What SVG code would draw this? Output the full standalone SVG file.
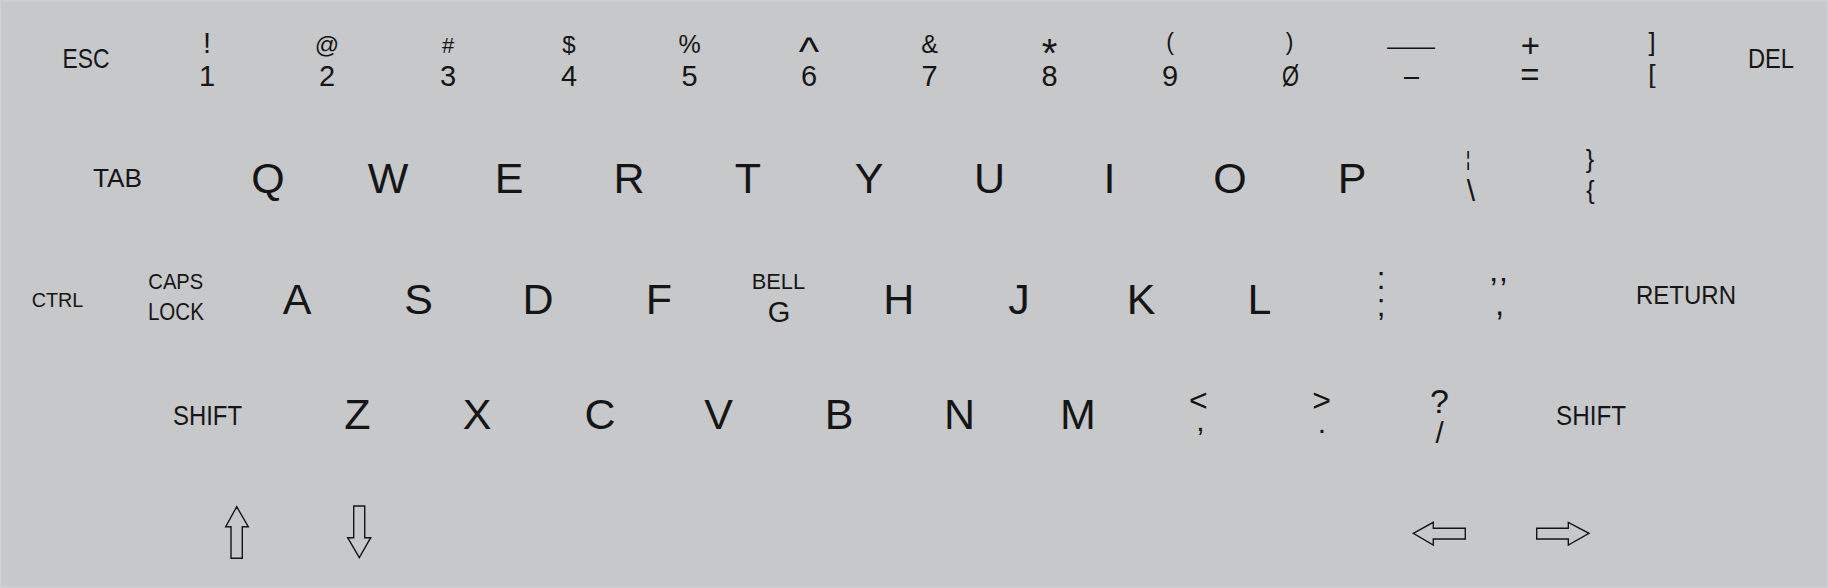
<svg xmlns="http://www.w3.org/2000/svg" width="1828" height="588" viewBox="0 0 1828 588">
<style>
text{font-family:"Liberation Sans",Arial,sans-serif;fill:#151515;text-anchor:middle}
.big{font-size:43px}
.d{font-size:29px}
.arrow{fill:none;stroke:#151515;stroke-width:1.4;stroke-linejoin:miter}
</style>
<rect x="0" y="0" width="1828" height="588" fill="#c7c8ca"/>
<rect x="0.5" y="0.5" width="1827" height="587" fill="none" stroke="#cfd0d2" stroke-width="1.5"/>
<g id="row1">
<g id="key-esc"><text x="86" y="68" font-size="28" textLength="47" lengthAdjust="spacingAndGlyphs">ESC</text></g>
<g id="key-1"><text x="207" y="53" class="d">!</text><text x="207" y="86" class="d">1</text></g>
<g id="key-2"><text x="327" y="53" font-size="24">@</text><text x="327" y="86" class="d">2</text></g>
<g id="key-3"><text x="448" y="53" font-size="22">#</text><text x="448" y="86" class="d">3</text></g>
<g id="key-4"><text x="569" y="52.5" font-size="24">$</text><text x="569" y="86" class="d">4</text></g>
<g id="key-5"><text x="689.5" y="53" font-size="25">%</text><text x="689.5" y="86" class="d">5</text></g>
<g id="key-6"><text x="809" y="65" font-size="29" transform="translate(809 65) scale(1.5 1.42) translate(-809 -65)">^</text><text x="809" y="86" class="d">6</text></g>
<g id="key-7"><text x="929.5" y="53" font-size="25">&amp;</text><text x="929.5" y="86" class="d">7</text></g>
<g id="key-8"><text x="1049.5" y="67" font-size="40">*</text><text x="1049.5" y="86" class="d">8</text></g>
<g id="key-9"><text x="1170" y="50" font-size="23">(</text><text x="1170" y="86" class="d">9</text></g>
<g id="key-0"><text x="1289.5" y="50" font-size="23">)</text><text x="1290.5" y="86" class="d" textLength="17" lengthAdjust="spacingAndGlyphs">Ø</text></g>
<g id="key-minus"><text x="1411" y="54" font-size="24" textLength="48" lengthAdjust="spacingAndGlyphs">—</text><text x="1411.5" y="86" font-size="32" textLength="15" lengthAdjust="spacingAndGlyphs">–</text></g>
<g id="key-equal"><text x="1530.5" y="57" font-size="33">+</text><text x="1530" y="86" font-size="33">=</text></g>
<g id="key-bracket"><text x="1652" y="51.3" font-size="25.5">]</text><text x="1652" y="82.7" font-size="26.5">[</text></g>
<g id="key-del"><text x="1771" y="68" font-size="28" textLength="46" lengthAdjust="spacingAndGlyphs">DEL</text></g>
</g>
<g id="row2">
<g id="key-tab"><text x="117.5" y="187" font-size="26.5" textLength="49" lengthAdjust="spacingAndGlyphs">TAB</text></g>
<g id="key-q"><text x="268" y="192.5" class="big">Q</text></g>
<g id="key-w"><text x="388" y="192.5" class="big">W</text></g>
<g id="key-e"><text x="509" y="192.5" class="big">E</text></g>
<g id="key-r"><text x="629" y="192.5" class="big">R</text></g>
<g id="key-t"><text x="748" y="192.5" class="big">T</text></g>
<g id="key-y"><text x="869" y="192.5" class="big">Y</text></g>
<g id="key-u"><text x="989.5" y="192.5" class="big">U</text></g>
<g id="key-i"><text x="1109.5" y="192.5" class="big">I</text></g>
<g id="key-o"><text x="1230" y="192.5" class="big">O</text></g>
<g id="key-p"><text x="1352" y="192.5" class="big">P</text></g>
<g id="key-backslash"><text x="1468" y="166" font-size="20">¦</text><text x="1471" y="201" font-size="30">\</text></g>
<g id="key-brace"><text x="1590" y="168" font-size="25">}</text><text x="1590.5" y="199" font-size="25">{</text></g>
</g>
<g id="row3">
<g id="key-ctrl"><text x="57.5" y="306.7" font-size="21" textLength="51.6" lengthAdjust="spacingAndGlyphs">CTRL</text></g>
<g id="key-capslock"><text x="175.8" y="289.3" font-size="22.5" textLength="55" lengthAdjust="spacingAndGlyphs">CAPS</text><text x="175.9" y="320" font-size="23" textLength="56" lengthAdjust="spacingAndGlyphs">LOCK</text></g>
<g id="key-a"><text x="297" y="314.3" class="big">A</text></g>
<g id="key-s"><text x="418.5" y="314.3" class="big">S</text></g>
<g id="key-d"><text x="538" y="314.3" class="big">D</text></g>
<g id="key-f"><text x="659" y="314.3" class="big">F</text></g>
<g id="key-g"><text x="778.4" y="289.3" font-size="22.5" textLength="53.3" lengthAdjust="spacingAndGlyphs">BELL</text><text x="779" y="322" class="d">G</text></g>
<g id="key-h"><text x="898.7" y="314.3" class="big">H</text></g>
<g id="key-j"><text x="1019" y="314.3" class="big">J</text></g>
<g id="key-k"><text x="1141" y="314.3" class="big">K</text></g>
<g id="key-l"><text x="1259.5" y="314.3" class="big">L</text></g>
<g id="key-semicolon"><text x="1381" y="288.5" font-size="31">:</text><text x="1381" y="315.6" font-size="31">;</text></g>
<g id="key-quote"><text x="1498.5" y="300.8" font-size="33" textLength="17" lengthAdjust="spacing">’’</text><text x="1499.5" y="315" font-size="33">,</text></g>
<g id="key-return"><text x="1686" y="304" font-size="26.5" textLength="100" lengthAdjust="spacingAndGlyphs">RETURN</text></g>
</g>
<g id="row4">
<g id="key-shift-left"><text x="207.5" y="425" font-size="27" textLength="69" lengthAdjust="spacingAndGlyphs">SHIFT</text></g>
<g id="key-z"><text x="357.5" y="429" class="big">Z</text></g>
<g id="key-x"><text x="477" y="429" class="big">X</text></g>
<g id="key-c"><text x="600" y="429" class="big">C</text></g>
<g id="key-v"><text x="718.5" y="429" class="big">V</text></g>
<g id="key-b"><text x="839" y="429" class="big">B</text></g>
<g id="key-n"><text x="959.5" y="429" class="big">N</text></g>
<g id="key-m"><text x="1078" y="429" class="big">M</text></g>
<g id="key-comma"><text x="1198.4" y="411" font-size="32">&lt;</text><text x="1200.5" y="431" font-size="30">,</text></g>
<g id="key-period"><text x="1321.7" y="411" font-size="32">&gt;</text><text x="1322" y="433.3" font-size="30">.</text></g>
<g id="key-slash"><text x="1439.5" y="413.3" font-size="34">?</text><text x="1439.5" y="443" font-size="29.5">/</text></g>
<g id="key-shift-right"><text x="1591" y="425" font-size="27" textLength="70" lengthAdjust="spacingAndGlyphs">SHIFT</text></g>
</g>
<g id="row5">
<g id="key-up"><polygon class="arrow" points="236.7,506.7 248.3,526.7 242.3,526.7 242.3,558.3 231,558.3 231,526.7 225.7,526.7"/></g>
<g id="key-down"><polygon class="arrow" points="353.7,506 364.7,506 364.7,537.7 370.7,537.7 359.3,557.7 347.7,537.7 353.7,537.7"/></g>
<g id="key-left"><polygon class="arrow" points="1413.3,533.3 1433.3,522.3 1433.3,528.3 1465.3,528.3 1465.3,539 1433.3,539 1433.3,545"/></g>
<g id="key-right"><polygon class="arrow" points="1536.7,528.3 1568.3,528.3 1568.3,522.3 1589,533.3 1568.3,545 1568.3,539 1536.7,539"/></g>
</g>
<g id="connectors"/>
</svg>
